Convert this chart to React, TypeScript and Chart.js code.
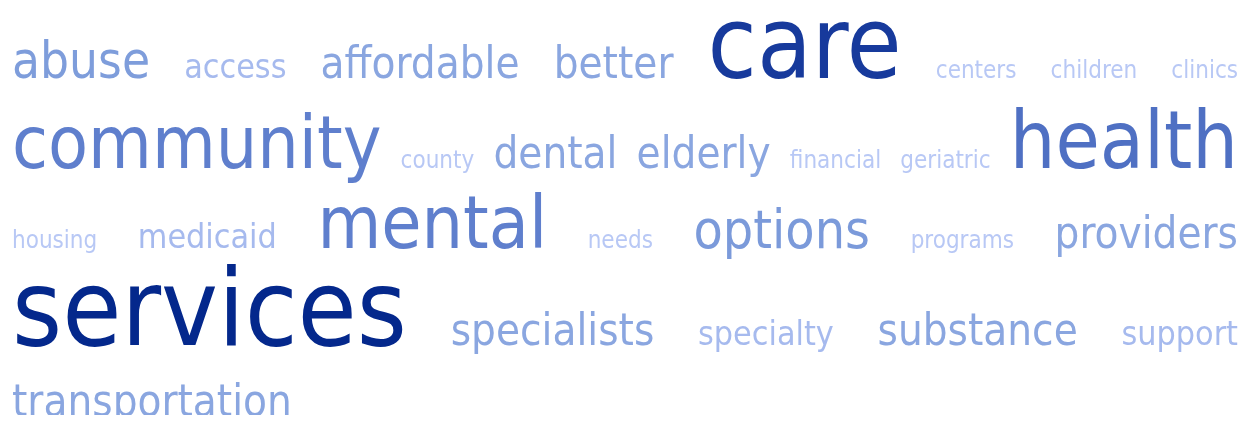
import React, { useEffect, useRef } from "react";
import { Chart, registerables } from "chart.js";

Chart.register(...registerables);

// ---- data ----
const words: string[] = [
  "abuse", "access", "affordable", "better", "care", "centers", "children", "clinics",
  "community", "county", "dental", "elderly", "financial", "geriatric", "health",
  "housing", "medicaid", "mental", "needs", "options", "programs", "providers",
  "services", "specialists", "specialty", "substance", "support",
  "transportation",
];
const counts: number[] = [
  19, 12, 16, 16, 39, 8, 8, 8,
  28, 8, 16, 16, 8, 8, 31,
  8, 12, 28, 8, 20, 8, 16,
  42, 16, 12, 16, 12,
  16,
];

// colour scale stops (t in 0..1 -> colour)
const colorStops: [number, number[]][] = [
  [0, [184, 200, 245]],
  [0.12, [166, 186, 238]],
  [0.25, [134, 163, 222]],
  [0.4, [118, 150, 216]],
  [0.6, [94, 126, 204]],
  [0.7, [74, 108, 192]],
  [0.9, [26, 60, 158]],
  [1, [4, 40, 140]],
];

const MIN_FONT = 24;
const MAX_FONT = 107;
const FAMILY = '"DejaVu Sans Condensed", "DejaVu Sans", sans-serif';
const ASC = 0.6;
const DESC = 0.35;
const LINE_GAP = 7.5;
const MIN_WORD_GAP = 14;
const LAST_ROW_GAP = 30;

function colorFor(t: number): string {
  for (let i = 1; i < colorStops.length; i++) {
    const [t1, c1] = colorStops[i];
    const [t0, c0] = colorStops[i - 1];
    if (t <= t1) {
      const f = (t - t0) / (t1 - t0 || 1);
      const c = c0.map((v, k) => Math.round(v + (c1[k] - v) * f));
      return `rgb(${c[0]},${c[1]},${c[2]})`;
    }
  }
  const c = colorStops[colorStops.length - 1][1];
  return `rgb(${c[0]},${c[1]},${c[2]})`;
}

const wordCloudPlugin = {
  id: "wordCloudLayout",
  afterDraw(chart: any) {
    const ctx: CanvasRenderingContext2D = chart.ctx;
    const labels: string[] = chart.data.labels;
    const values: number[] = chart.data.datasets[0].data;
    const { left, right, top } = chart.chartArea;
    const vmin = Math.min(...values);
    const vmax = Math.max(...values);
    ctx.save();
    try {
      (ctx as any).fontStretch = "condensed";
    } catch (e) {}
    const items = labels.map((w, i) => {
      const t = (values[i] - vmin) / (vmax - vmin || 1);
      const size = MIN_FONT + t * (MAX_FONT - MIN_FONT);
      ctx.font = `${size}px ${FAMILY}`;
      const width = ctx.measureText(w).width;
      return { w, size, width, color: colorFor(t) };
    });
    const avail = right - left;
    const rows: (typeof items)[] = [];
    let cur: typeof items = [];
    let curW = 0;
    for (const it of items) {
      if (cur.length && curW + MIN_WORD_GAP + it.width > avail) {
        rows.push(cur);
        cur = [];
        curW = 0;
      }
      curW += (cur.length ? MIN_WORD_GAP : 0) + it.width;
      cur.push(it);
    }
    if (cur.length) rows.push(cur);

    ctx.textAlign = "left";
    ctx.textBaseline = "alphabetic";
    let baseline = 0;
    let prevMax = 0;
    rows.forEach((row, r) => {
      const maxSize = Math.max(...row.map((x) => x.size));
      if (r === 0) baseline = top + ASC * maxSize;
      else baseline += DESC * prevMax + ASC * maxSize + LINE_GAP;
      prevMax = maxSize;
      const sumW = row.reduce((s, x) => s + x.width, 0);
      const last = r === rows.length - 1;
      const gap = !last && row.length > 1 ? (avail - sumW) / (row.length - 1) : LAST_ROW_GAP;
      let x = left;
      for (const it of row) {
        ctx.font = `${it.size}px ${FAMILY}`;
        ctx.fillStyle = it.color;
        ctx.fillText(it.w, x, baseline);
        x += it.width + gap;
      }
    });
    ctx.restore();
  },
};

export default function App() {
  const ref = useRef<HTMLCanvasElement | null>(null);
  useEffect(() => {
    if (!ref.current) return;
    const chart = new Chart(ref.current, {
      type: "bar",
      data: {
        labels: words,
        datasets: [
          {
            data: counts,
            backgroundColor: "rgba(0,0,0,0)",
            borderWidth: 0,
          },
        ],
      },
      options: {
        responsive: false,
        animation: false,
        events: [],
        layout: { padding: { left: 4, right: 4, top: 10, bottom: 0 } },
        plugins: {
          legend: { display: false },
          tooltip: { enabled: false },
        },
        scales: {
          x: { display: false },
          y: { display: false },
        },
      },
      plugins: [wordCloudPlugin],
    });
    return () => chart.destroy();
  }, []);
  return (
    <div style={{ width: 1234, height: 415, marginBottom: -8, overflow: "hidden" }}>
      <canvas ref={ref} width={1234} height={415} style={{ display: "block", width: 1234, height: 415 }} />
    </div>
  );
}
